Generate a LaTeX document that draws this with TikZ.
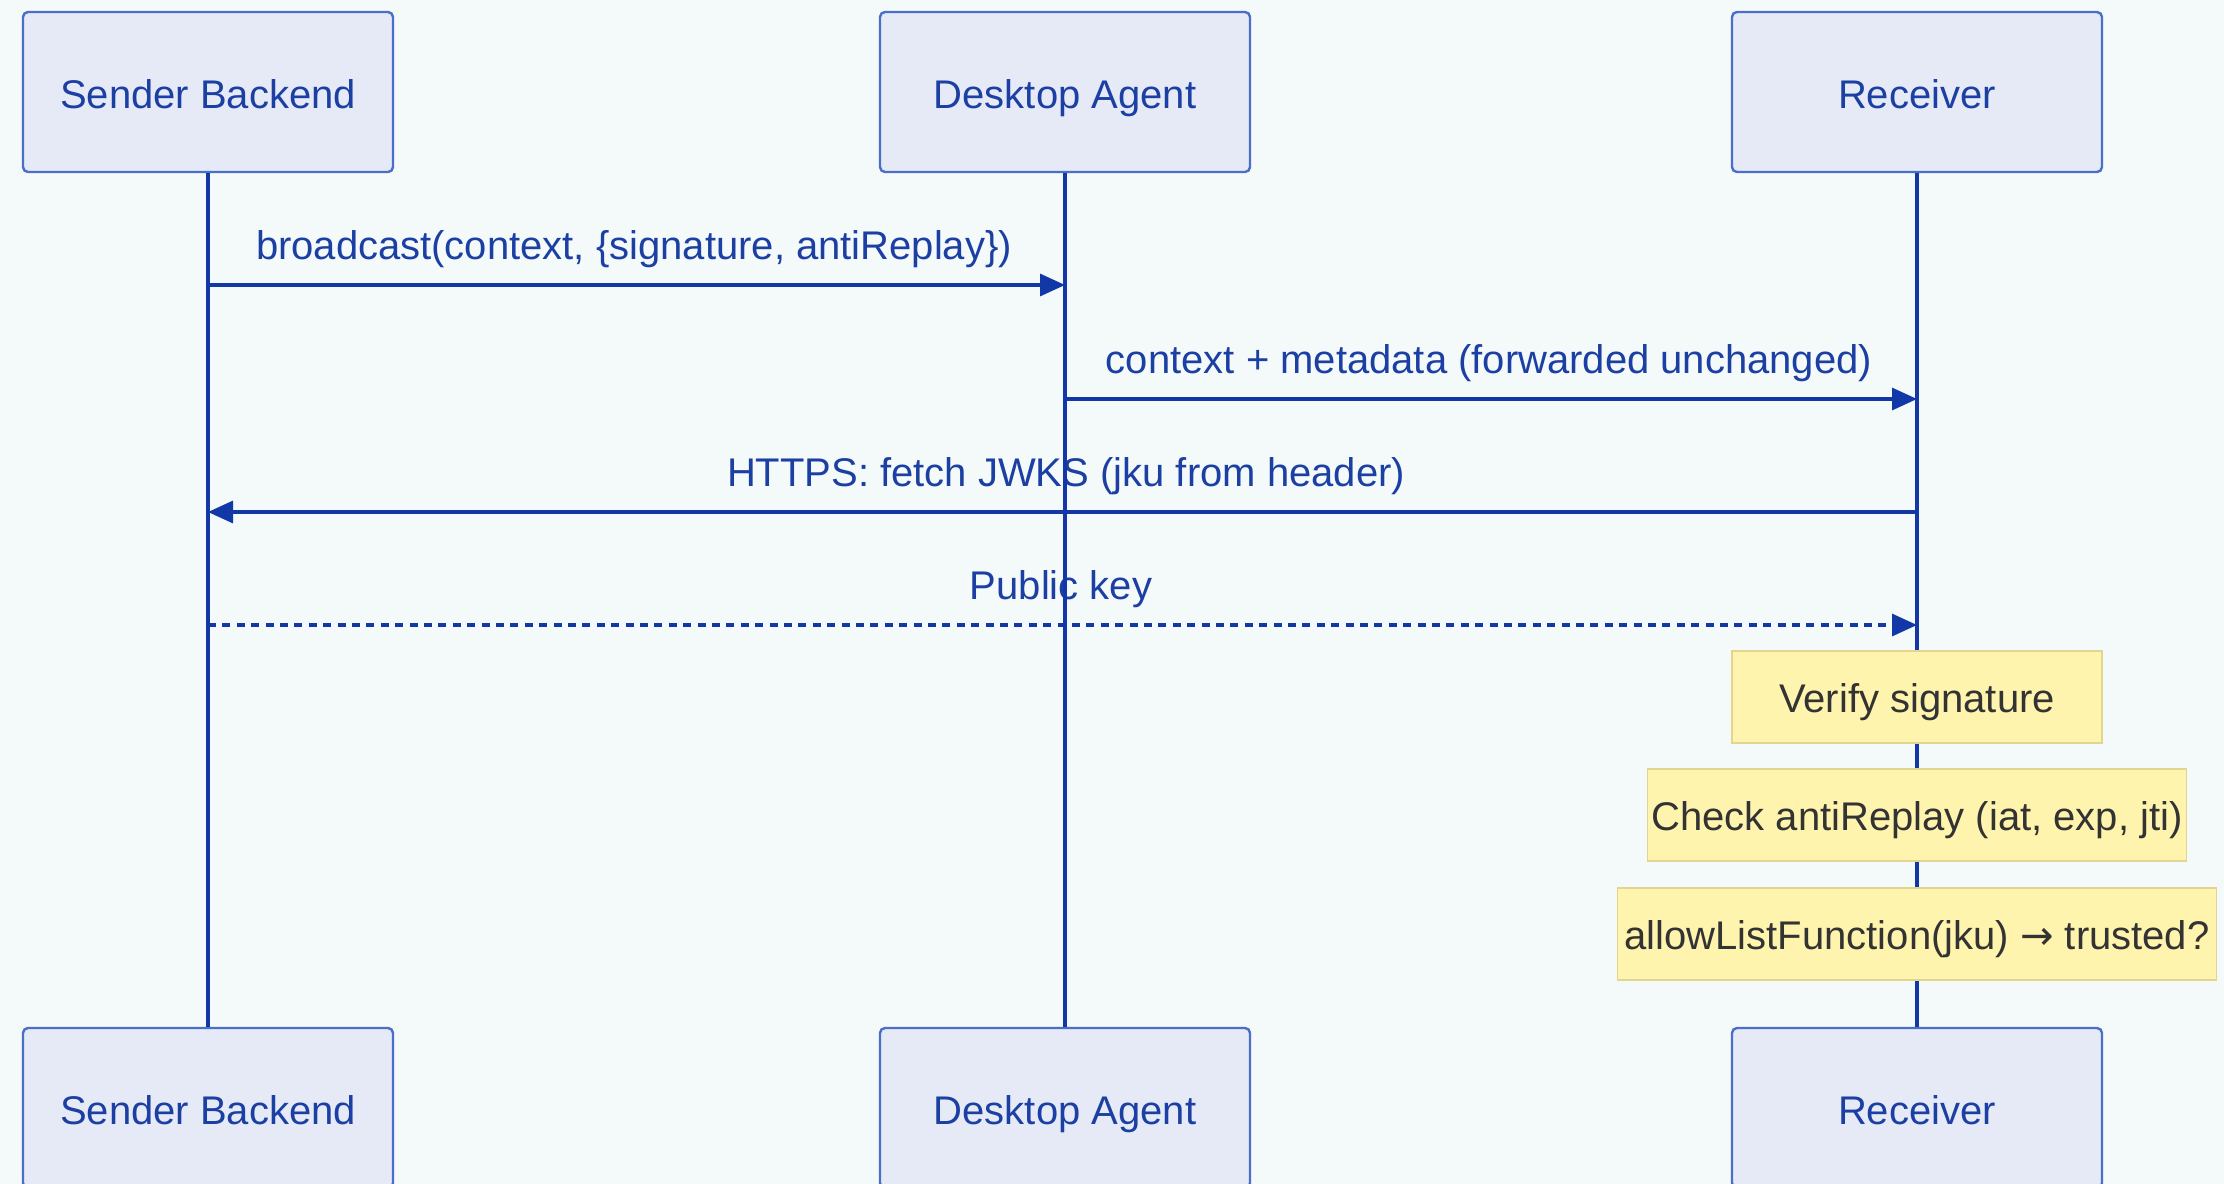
\documentclass[tikz,border=0pt]{standalone}
\usepackage{fontspec}
\setmainfont{Liberation Sans}
\newfontfamily\arrowfont{DejaVu Sans}
\usetikzlibrary{arrows.meta}
\definecolor{bgc}{HTML}{F4F9FA}
\definecolor{actorfill}{HTML}{E6EAF6}
\definecolor{actorline}{HTML}{4A6FC8}
\definecolor{textblue}{HTML}{1C3FA3}
\definecolor{lineblue}{HTML}{1238A8}
\definecolor{notefill}{HTML}{FFF4AD}
\definecolor{noteline}{HTML}{E3D590}
\definecolor{notetext}{HTML}{333333}
\begin{document}
\begin{tikzpicture}[x=0.5pt,y=-0.5pt,
  txt/.style={font=\fontsize{20}{24}\selectfont},
  actor/.style={txt, draw=actorline, line width=1.2pt, fill=actorfill,
    rounded corners=2.5pt, minimum width=185pt, minimum height=80pt, text=textblue,
    text height=17pt, text depth=0.5pt},
  life/.style={draw=lineblue, line width=2.1pt},
  msg/.style={draw=lineblue, line width=1.6pt, -{Triangle[length=12.5pt,width=11pt]}},
  reply/.style={msg, dash pattern=on 4pt off 3.2pt},
  lbl/.style={txt, text=textblue, inner sep=0pt},
  note/.style={txt, draw=noteline, line width=0.75pt, fill=notefill, text=notetext,
    minimum height=46pt, inner xsep=2pt, text height=16.5pt, text depth=1.5pt}]

% canvas
\fill[bgc] (0,0) rectangle (2224,1184);
\useasboundingbox (0,0) rectangle (2224,1184);

% participants, top and bottom
\node[actor] (sbT) at (208,92) {Sender Backend};
\node[actor] (daT) at (1065,92) {Desktop Agent};
\node[actor] (rcT) at (1917,92) {Receiver};
\node[actor] (sbB) at (208,1108) {Sender Backend};
\node[actor] (daB) at (1065,1108) {Desktop Agent};
\node[actor] (rcB) at (1917,1108) {Receiver};

% message rows
\coordinate (r1) at (0,285);
\coordinate (r2) at (0,399);
\coordinate (r3) at (0,512);
\coordinate (r4) at (0,625);

% message labels
\node[lbl] (l1) at (634,249) {broadcast(context, \{signature, antiReplay\})};
\node[lbl] (l2) at (1489,363) {context + metadata (forwarded unchanged)};
\node[lbl] (l3) at (1066,476) {HTTPS: fetch JWKS (jku from header)};
\node[lbl] (l4) at (1061,589) {Public key};

% lifelines
\draw[life] (sbT.south) -- (sbB.north);
\draw[life] (daT.south) -- (daB.north);
\draw[life] (rcT.south) -- (rcB.north);

% messages
\draw[msg] (sbT |- r1) -- (daT |- r1);
\draw[msg] (daT |- r2) -- (rcT |- r2);
\draw[msg] (rcT |- r3) -- (sbT |- r3);
\draw[reply] (sbT |- r4) -- (rcT |- r4);

% notes on the receiver
\node[note, minimum width=185pt] (n1) at (1917,697) {Verify signature};
\node[note, minimum width=267pt] (n2) at (1917,815) {Check antiReplay (iat, exp, jti)};
\node[note, minimum width=299.5pt] (n3) at (1917,934) {allowListFunction(jku) {\arrowfont →} trusted?};
\end{tikzpicture}
\end{document}
